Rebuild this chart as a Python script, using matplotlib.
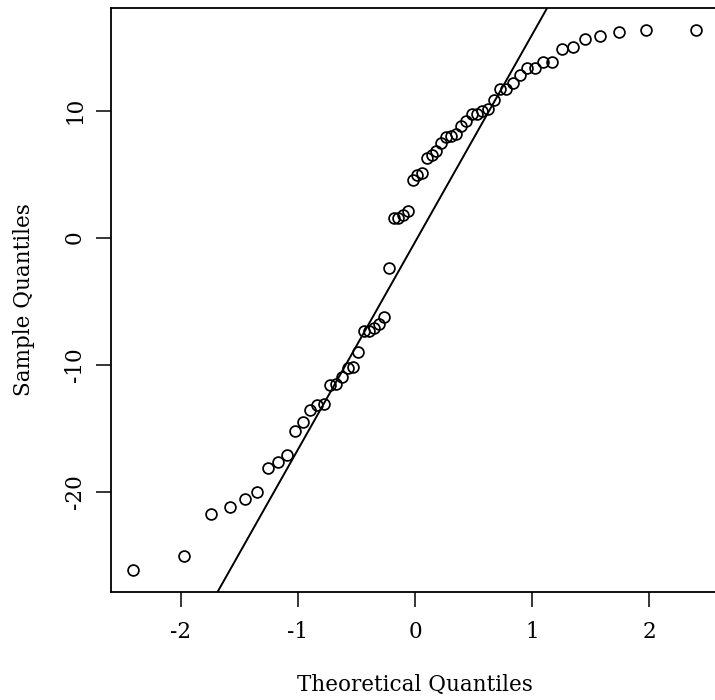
from statistics import NormalDist

import matplotlib
matplotlib.use("Agg")
import matplotlib.pyplot as plt
import numpy as np

# sorted sample values (n = 62)
lower_tail = [-26.20, -25.06, -21.80, -21.22, -20.61, -20.06, -18.17, -17.65,
              -17.15, -15.24, -14.55, -13.58, -13.19, -13.13, -11.61, -11.50,
              -10.96, -10.30, -10.17, -8.99, -7.36, -7.36, -7.15, -6.81,
              -6.28, -2.40, 1.54, 1.54, 1.77, 2.09]
upper_tail = [4.53, 4.92, 5.12, 6.30, 6.50, 6.81, 7.44, 7.95, 8.03, 8.15,
              8.82, 9.17, 9.72, 9.72, 9.96, 10.12, 10.83, 11.69, 11.69, 12.17,
              12.80, 13.39, 13.39, 13.82, 13.82, 14.84, 15.00, 15.63, 15.91,
              16.18, 16.38, 16.38]
x_ticks = [-2, -1, 0, 1, 2]
y_ticks = [-20, -10, 0, 10]

sample = np.sort(np.array(lower_tail + upper_tail))
n = len(sample)
nd = NormalDist()

# ppoints() as R does it for n > 10
probs = (np.arange(1, n + 1) - 0.5) / n
theo = np.array([nd.inv_cdf(p) for p in probs])

# qqline through the first and third quartiles
q1, q3 = np.quantile(sample, [0.25, 0.75])
z1, z3 = nd.inv_cdf(0.25), nd.inv_cdf(0.75)
slope = (q3 - q1) / (z3 - z1)
intercept = q1 - slope * z1

plt.rcParams["font.family"] = "DejaVu Serif"
plt.rcParams["axes.unicode_minus"] = False

fig = plt.figure(figsize=(7.15, 7.0), dpi=100)
# right edge of the box lies just outside the picture
ax = fig.add_axes([0.1552, 0.1543, 0.8504, 0.8343])

ax.plot(theo, sample, linestyle="none", marker="o", markersize=7.8,
        markerfacecolor="none", markeredgecolor="black", markeredgewidth=1.25)
ax.axline((0, intercept), slope=slope, color="black", linewidth=1.4)

# R's 4% axis extension
def padded(lo, hi):
    d = (hi - lo) * 0.04
    return lo - d, hi + d

ax.set_xlim(*padded(theo.min(), theo.max()))
ax.set_ylim(*padded(sample.min(), sample.max()))

ax.set_xticks(x_ticks)
ax.set_yticks(y_ticks)
ax.tick_params(direction="out", length=11, width=1.1, labelsize=15.5, pad=10)
ax.tick_params(axis="y", labelrotation=90, pad=7)
for lab in ax.get_yticklabels():
    lab.set_va("center")

for sp in ax.spines.values():
    sp.set_linewidth(1.3)

ax.set_xlabel("Theoretical Quantiles", fontsize=15.5, labelpad=22)
ax.set_ylabel("Sample Quantiles", fontsize=15.5, labelpad=21)

fig.savefig("out.png", dpi=100)
